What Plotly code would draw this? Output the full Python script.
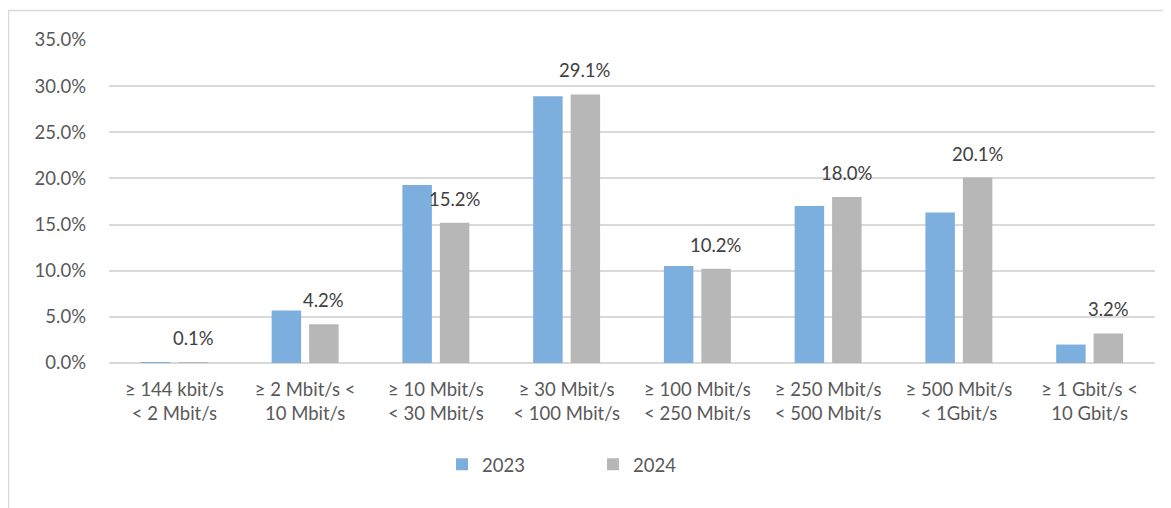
import plotly.graph_objects as go

categories = [
    "≥ 144 kbit/s<br>&lt; 2 Mbit/s",
    "≥ 2 Mbit/s &lt;<br>10 Mbit/s",
    "≥ 10 Mbit/s<br>&lt; 30 Mbit/s",
    "≥ 30 Mbit/s<br>&lt; 100 Mbit/s",
    "≥ 100 Mbit/s<br>&lt; 250 Mbit/s",
    "≥ 250 Mbit/s<br>&lt; 500 Mbit/s",
    "≥ 500 Mbit/s<br>&lt; 1Gbit/s",
    "≥ 1 Gbit/s &lt;<br>10 Gbit/s",
]
values_2023 = [0.001, 0.057, 0.193, 0.289, 0.105, 0.170, 0.163, 0.020]
values_2024 = [0.001, 0.042, 0.152, 0.291, 0.102, 0.180, 0.201, 0.032]
series_names = ["2023", "2024"]

BLUE = "#7DAFDE"
GRAY = "#B7B7B7"
TEXT = "#595959"
GRID = "#D9D9D9"
FONT = "Lato, 'Open Sans', sans-serif"
FS = 18.5

fig = go.Figure()
fig.add_trace(go.Bar(x=categories, y=values_2023, name=series_names[0],
                     marker=dict(color=BLUE, line=dict(width=0))))
fig.add_trace(go.Bar(x=categories, y=values_2024, name=series_names[1],
                     marker=dict(color=GRAY, line=dict(width=0))))

for c, v in zip(categories, values_2024):
    fig.add_annotation(x=c, y=v, xref="x", yref="y", text=f"{v*100:.1f}%",
                       showarrow=False, xshift=18.75, yshift=24, yanchor="middle",
                       font=dict(family=FONT, size=FS, color="#404040"))

# page has an 8px body margin; figure coordinates are page coordinates - 8
W, H = 1163, 500
L, R, T, B = 101, 16, 31.5, 145
PW, PH = W - L - R, H - T - B

# chart border (styling)
fig.add_shape(type="rect", xref="paper", yref="paper",
              x0=(0.5 - L) / PW, x1=(W + 5 - L) / PW,
              y0=-(H + 5 - (H - B)) / PH, y1=1 + (T - 2) / PH,
              line=dict(color=GRID, width=1.5), fillcolor="rgba(0,0,0,0)", layer="below")

fig.update_layout(
    width=W, height=H,
    margin=dict(l=L, r=R, t=T, b=B, pad=0),
    paper_bgcolor="white", plot_bgcolor="white",
    barmode="group", bargap=0.427, bargroupgap=0.213,
    font=dict(family=FONT, size=FS, color=TEXT),
    showlegend=True,
    legend=dict(orientation="h", x=(434 - L) / PW, xanchor="left",
                y=-(457 - (H - B)) / PH, yanchor="middle",
                font=dict(family=FONT, size=FS, color=TEXT),
                itemwidth=30, entrywidth=106, bgcolor="rgba(0,0,0,0)"),
)
fig.update_xaxes(showgrid=False, showline=False, ticks="", tickfont=dict(size=FS, color=TEXT),
                 ticklabelstandoff=13)
fig.update_yaxes(range=[0, 0.35], dtick=0.05, tickformat=".1%", showgrid=True,
                 gridcolor=GRID, gridwidth=1.5, zeroline=True, zerolinecolor=GRID,
                 zerolinewidth=1.5, showline=False, ticks="",
                 tickfont=dict(size=FS, color=TEXT), ticklabelstandoff=22)

fig.write_html("out.html")
